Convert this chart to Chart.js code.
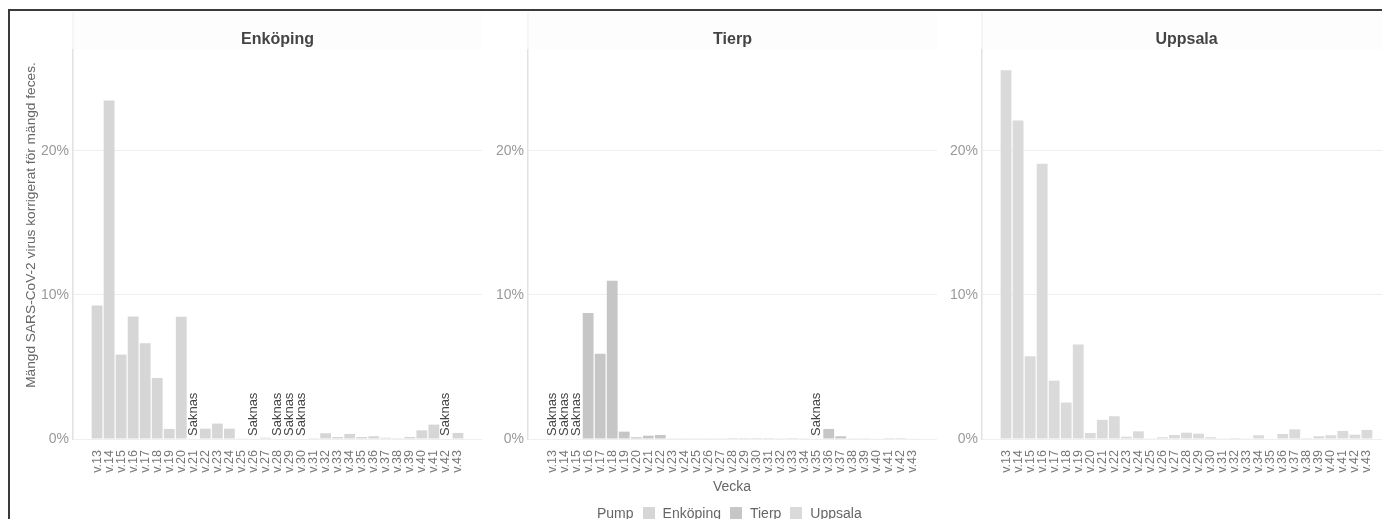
<!DOCTYPE html>
<html>
<head>
<meta charset="utf-8">
<script src="https://cdn.jsdelivr.net/npm/chart.js@4/dist/chart.umd.min.js"></script>
<style>
  html, body { margin: 0; padding: 0; width: 1382px; height: 519px; overflow: hidden; background: #fff;
    font-family: "Liberation Sans", Arial, sans-serif; }
  .panel { position: absolute; top: 0; width: 452px; height: 480px; }
  .frame { position: absolute; left: 8px; top: 9px; width: 1400px; height: 520px;
    border-top: 2px solid #3a3a3a; border-left: 2px solid #3a3a3a; pointer-events: none; }
  #ytitle { position: absolute; left: 30px; top: 225px; transform: translate(-50%, -50%) rotate(-90deg);
    white-space: nowrap; font-size: 13.7px; color: #666; }
  #xtitle { position: absolute; left: 732px; top: 486px; transform: translate(-50%, -50%);
    font-size: 14px; color: #666; }
  #legend { position: absolute; left: 597px; top: 513px; transform: translateY(-50%);
    display: flex; align-items: center; font-size: 14px; color: #666; white-space: nowrap; }
  #legend .sw { display: inline-block; width: 12px; height: 12px; margin: 0 8px 0 9px; }
</style>
</head>
<body>
<canvas id="p0" class="panel" width="452" height="480" style="left:30px"></canvas>
<canvas id="p1" class="panel" width="452" height="480" style="left:485px"></canvas>
<canvas id="p2" class="panel" width="452" height="480" style="left:939px"></canvas>
<div class="frame"></div>
<div id="ytitle">Mängd SARS-CoV-2 virus korrigerat för mängd feces.</div>
<div id="xtitle">Vecka</div>
<div id="legend"></div>
<script>
// Weeks on the x axis
const weeks = ['v.13','v.14','v.15','v.16','v.17','v.18','v.19','v.20','v.21','v.22','v.23','v.24','v.25','v.26','v.27','v.28',
  'v.29','v.30','v.31','v.32','v.33','v.34','v.35','v.36','v.37','v.38','v.39','v.40','v.41','v.42','v.43'];

// Share of virus (percent) per week and pump; null = no sample ("Saknas")
const enkoping = [9.26, 23.5, 5.86, 8.51, 6.65, 4.23, 0.70, 8.49, null, 0.72, 1.07, 0.72, 0.02, null, 0.09, null,
  null, null, 0.01, 0.40, 0.14, 0.35, 0.14, 0.19, 0.09, 0.01, 0.14, 0.60, 1.00, null, 0.42];
const tierp = [null, null, null, 8.74, 5.91, 10.98, 0.51, 0.12, 0.23, 0.28, 0.05, 0.05, 0.02, 0.02, 0.05, 0.01,
  0.01, 0.01, 0.01, 0.05, 0.01, 0.02, null, 0.70, 0.19, 0.02, 0.02, 0.04, 0.01, 0.01, 0.04];
const uppsala = [25.6, 22.1, 5.74, 19.1, 4.05, 2.53, 6.56, 0.42, 1.33, 1.58, 0.16, 0.53, 0.05, 0.12, 0.28, 0.44,
  0.37, 0.12, 0.05, 0.07, 0.02, 0.26, 0.03, 0.35, 0.67, 0.01, 0.19, 0.26, 0.56, 0.30, 0.63];

const pumps = ['Enköping', 'Tierp', 'Uppsala'];
const pumpColors = ['#d6d6d6', '#c6c6c6', '#dadada'];
const yTickValues = [0, 10, 20];
const missingLabel = 'Saknas';
const legendTitle = 'Pump';

const FONT = '"Liberation Sans", Arial, sans-serif';

// Facet strip background and the panel heading
const stripPlugin = {
  id: 'strip',
  beforeDraw(chart) {
    const { ctx, chartArea } = chart;
    ctx.save();
    ctx.fillStyle = '#fdfdfd';
    ctx.fillRect(chartArea.left, 12, chartArea.right - chartArea.left, chartArea.top - 12);
    ctx.strokeStyle = '#f3f3f3';
    ctx.lineWidth = 1.5;
    ctx.beginPath();
    ctx.moveTo(chartArea.left, 12);
    ctx.lineTo(chartArea.left, chartArea.top);
    ctx.stroke();
    ctx.restore();
  },
  afterDraw(chart, args, opts) {
    const { ctx, chartArea } = chart;
    ctx.save();
    ctx.font = 'bold 16px ' + FONT;
    ctx.fillStyle = '#444';
    ctx.textAlign = 'center';
    ctx.textBaseline = 'middle';
    ctx.fillText(opts.text, (chartArea.left + chartArea.right) / 2, 40);
    ctx.restore();
  }
};

// "Saknas" written upright at weeks without a value
const missingPlugin = {
  id: 'missing',
  afterDatasetsDraw(chart) {
    const { ctx, scales: { x, y } } = chart;
    const pts = chart.data.datasets[0].data;
    ctx.save();
    ctx.font = '13px ' + FONT;
    ctx.fillStyle = '#444';
    ctx.textAlign = 'left';
    ctx.textBaseline = 'middle';
    pts.forEach(p => {
      if (p.y === null) {
        ctx.save();
        ctx.translate(x.getPixelForValue(p.x), y.getPixelForValue(0) - 3);
        ctx.rotate(-Math.PI / 2);
        ctx.fillText(missingLabel, 0, 0);
        ctx.restore();
      }
    });
    ctx.restore();
  }
};

function makePanel(id, title, values, color) {
  return new Chart(document.getElementById(id), {
    type: 'bar',
    data: {
      datasets: [{
        data: values.map((v, i) => ({ x: i, y: v })),
        backgroundColor: color,
        borderWidth: 0,
        barPercentage: 0.9,
        categoryPercentage: 1.0
      }]
    },
    options: {
      responsive: false,
      animation: false,
      layout: { padding: { top: 50, left: 0, right: 0, bottom: 0 } },
      plugins: {
        legend: { display: false },
        tooltip: { enabled: false },
        strip: { text: title }
      },
      scales: {
        x: {
          type: 'linear', min: -2, max: 32, offset: false,
          grid: { display: false }, border: { display: false },
          afterBuildTicks: s => { s.ticks = weeks.map((w, i) => ({ value: i })); },
          afterFit: s => { s.height = 41; },
          ticks: {
            autoSkip: false, minRotation: 90, maxRotation: 90, padding: 3,
            color: '#777', font: { size: 12.5, family: FONT },
            callback: v => weeks[v] ?? ''
          }
        },
        y: {
          min: 0, max: 27,
          afterBuildTicks: s => { s.ticks = yTickValues.map(v => ({ value: v })); },
          afterFit: s => { s.width = 43; },
          grid: { color: '#efefef', drawTicks: false, lineWidth: 1 },
          border: { display: true, color: '#e2e2e2', width: 1.5 },
          ticks: { padding: 4, color: '#999', font: { size: 14, family: FONT }, callback: v => v + '%' }
        }
      }
    },
    plugins: [stripPlugin, missingPlugin]
  });
}

const series = [enkoping, tierp, uppsala];
pumps.forEach((p, i) => makePanel('p' + i, p, series[i], pumpColors[i]));

// Shared legend below the panels
const lg = document.getElementById('legend');
const head = document.createElement('span');
head.textContent = legendTitle;
lg.appendChild(head);
pumps.forEach((p, i) => {
  const sw = document.createElement('span');
  sw.className = 'sw';
  sw.style.background = pumpColors[i];
  const t = document.createElement('span');
  t.textContent = p;
  lg.appendChild(sw);
  lg.appendChild(t);
});
</script>
</body>
</html>
